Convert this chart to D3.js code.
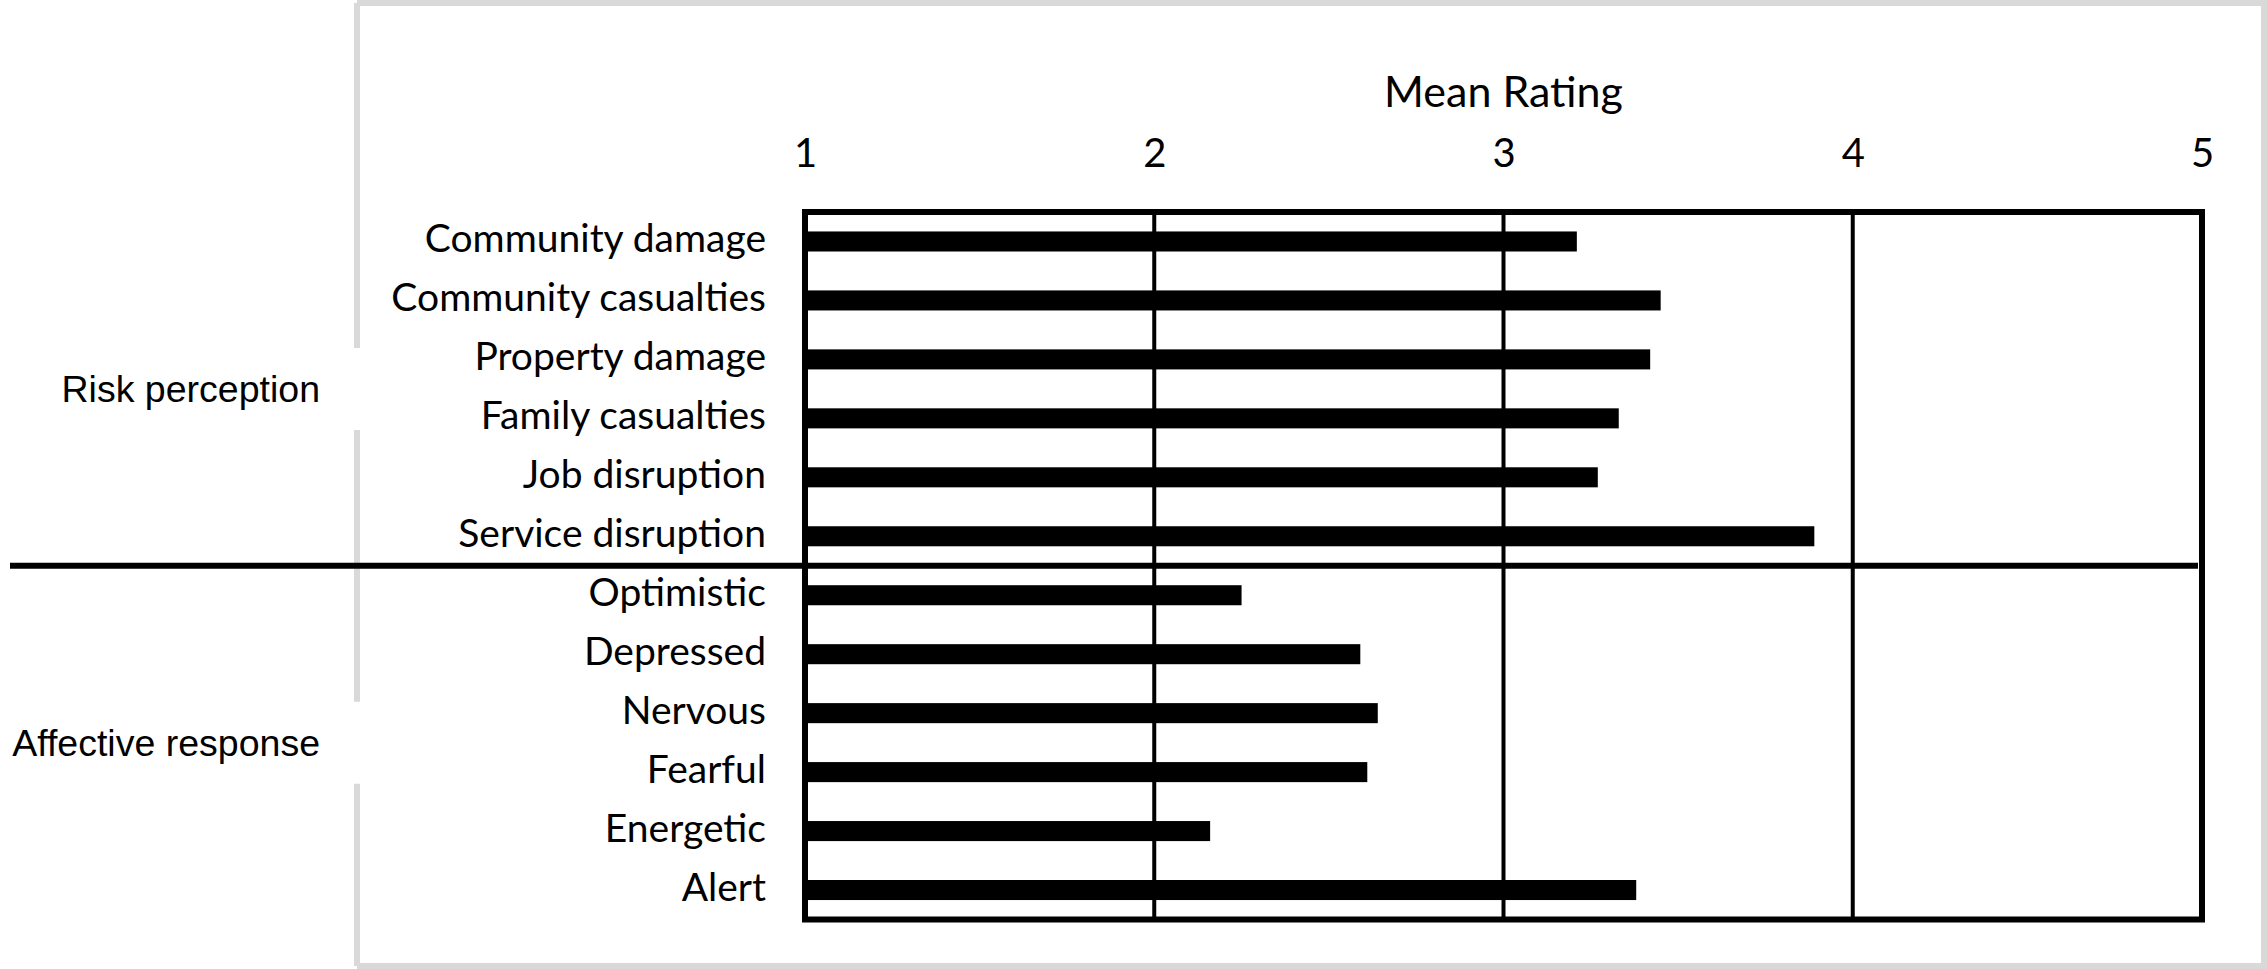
<!DOCTYPE html>
<html>
<head>
<meta charset="utf-8">
<script src="https://cdn.jsdelivr.net/npm/d3@7"></script>
<style>
  body { margin: 0; background: #fff; }
  .cat text, .tick-x text, .title { font-family: Lato, "Open Sans", sans-serif; fill: #000; }
  .group-label { font-family: "Liberation Sans", Arial, sans-serif; fill: #000; }
</style>
</head>
<body>
<svg id="chart"></svg>
<script>
// data
var categories = ["Community damage", "Community casualties", "Property damage",
    "Family casualties", "Job disruption", "Service disruption",
    "Optimistic", "Depressed", "Nervous", "Fearful", "Energetic", "Alert"];
var groupNames = ["Risk perception", "Affective response"];
var groupOf = [0, 0, 0, 0, 0, 0, 1, 1, 1, 1, 1, 1];
var meanRating = [3.21, 3.45, 3.42, 3.33, 3.27, 3.89, 2.25, 2.59, 2.64, 2.61, 2.16, 3.38];
var ratingTicks = [1, 2, 3, 4, 5];
var axisTitle = "Mean Rating";

var width = 2267, height = 969;
var plot = {left: 805, right: 2202, top: 212, bottom: 919.5};
var labelFont = 39;

var svg = d3.select("#chart")
    .attr("width", width)
    .attr("height", height);

svg.append("rect")
    .attr("width", width)
    .attr("height", height)
    .attr("fill", "#fff");

var x = d3.scaleLinear()
    .domain([1, 5])
    .range([plot.left, plot.right]);

var y = d3.scaleBand()
    .domain(categories)
    .range([plot.top, plot.bottom])
    .paddingInner(0.66)
    .paddingOuter(0.33);

// group centres from the band scale
var groupCentre = groupNames.map(function (g, gi) {
    var rows = categories.filter(function (c, i) { return groupOf[i] === gi; });
    var y0 = y(rows[0]), y1 = y(rows[rows.length - 1]) + y.bandwidth();
    return (y0 + y1) / 2;
});

// outer grey frame, broken where the group labels sit
var frameX = 357, frameTop = 3, frameBottom = 966, frameRight = 2264, gapHalf = 41;
var frame = svg.append("g")
    .attr("stroke", "#d9d9d9")
    .attr("stroke-width", 6)
    .attr("fill", "none");
frame.append("path")
    .attr("d", "M" + frameX + "," + frameTop + "H" + frameRight + "V" + frameBottom + "H" + frameX);
var segs = [frameTop];
groupCentre.forEach(function (c) { segs.push(c - gapHalf, c + gapHalf); });
segs.push(frameBottom);
for (var s = 0; s < segs.length; s += 2) {
    frame.append("line")
        .attr("x1", frameX).attr("x2", frameX)
        .attr("y1", segs[s]).attr("y2", segs[s + 1]);
}

// vertical grid lines
svg.append("g")
    .selectAll("line")
    .data(ratingTicks.slice(1, -1))
    .enter().append("line")
    .attr("x1", function (d) { return x(d); })
    .attr("x2", function (d) { return x(d); })
    .attr("y1", plot.top)
    .attr("y2", plot.bottom)
    .attr("stroke", "#000")
    .attr("stroke-width", 4);

// bars
svg.append("g")
    .selectAll("rect")
    .data(meanRating)
    .enter().append("rect")
    .attr("x", x(1))
    .attr("y", function (d, i) { return y(categories[i]); })
    .attr("width", function (d) { return x(d) - x(1); })
    .attr("height", y.bandwidth())
    .attr("fill", "#000");

// plot border
svg.append("rect")
    .attr("x", plot.left)
    .attr("y", plot.top)
    .attr("width", plot.right - plot.left)
    .attr("height", plot.bottom - plot.top)
    .attr("fill", "none")
    .attr("stroke", "#000")
    .attr("stroke-width", 6);

// divider between the two groups
var lastRisk = categories[groupOf.lastIndexOf(0)];
var firstAff = categories[groupOf.indexOf(1)];
var divY = (y(lastRisk) + y.bandwidth() + y(firstAff)) / 2;
svg.append("line")
    .attr("x1", 10)
    .attr("x2", plot.right - 4)
    .attr("y1", divY)
    .attr("y2", divY)
    .attr("stroke", "#000")
    .attr("stroke-width", 6);

// top axis with rating ticks
var xAxis = svg.append("g")
    .attr("class", "tick-x")
    .attr("transform", "translate(0," + plot.top + ")")
    .call(d3.axisTop(x).tickValues(ratingTicks).tickSize(0).tickPadding(45).tickFormat(d3.format("d")));
xAxis.select(".domain").remove();
xAxis.selectAll("text").attr("font-size", 40);

svg.append("text")
    .attr("class", "title")
    .attr("x", (plot.left + plot.right) / 2)
    .attr("y", 107)
    .attr("text-anchor", "middle")
    .attr("font-size", 43)
    .text(axisTitle);

// category labels
var yAxis = svg.append("g")
    .attr("class", "cat")
    .attr("transform", "translate(" + plot.left + ",0)")
    .call(d3.axisLeft(y).tickSize(0).tickPadding(39));
yAxis.select(".domain").remove();
yAxis.selectAll("text")
    .attr("font-size", labelFont)
    .attr("dy", "0.28em");

// group labels
svg.append("g")
    .selectAll("text")
    .data(groupNames)
    .enter().append("text")
    .attr("class", "group-label")
    .attr("x", 320)
    .attr("y", function (d, i) { return groupCentre[i]; })
    .attr("dy", "0.35em")
    .attr("text-anchor", "end")
    .attr("font-size", 37.5)
    .text(function (d) { return d; });
</script>
</body>
</html>
